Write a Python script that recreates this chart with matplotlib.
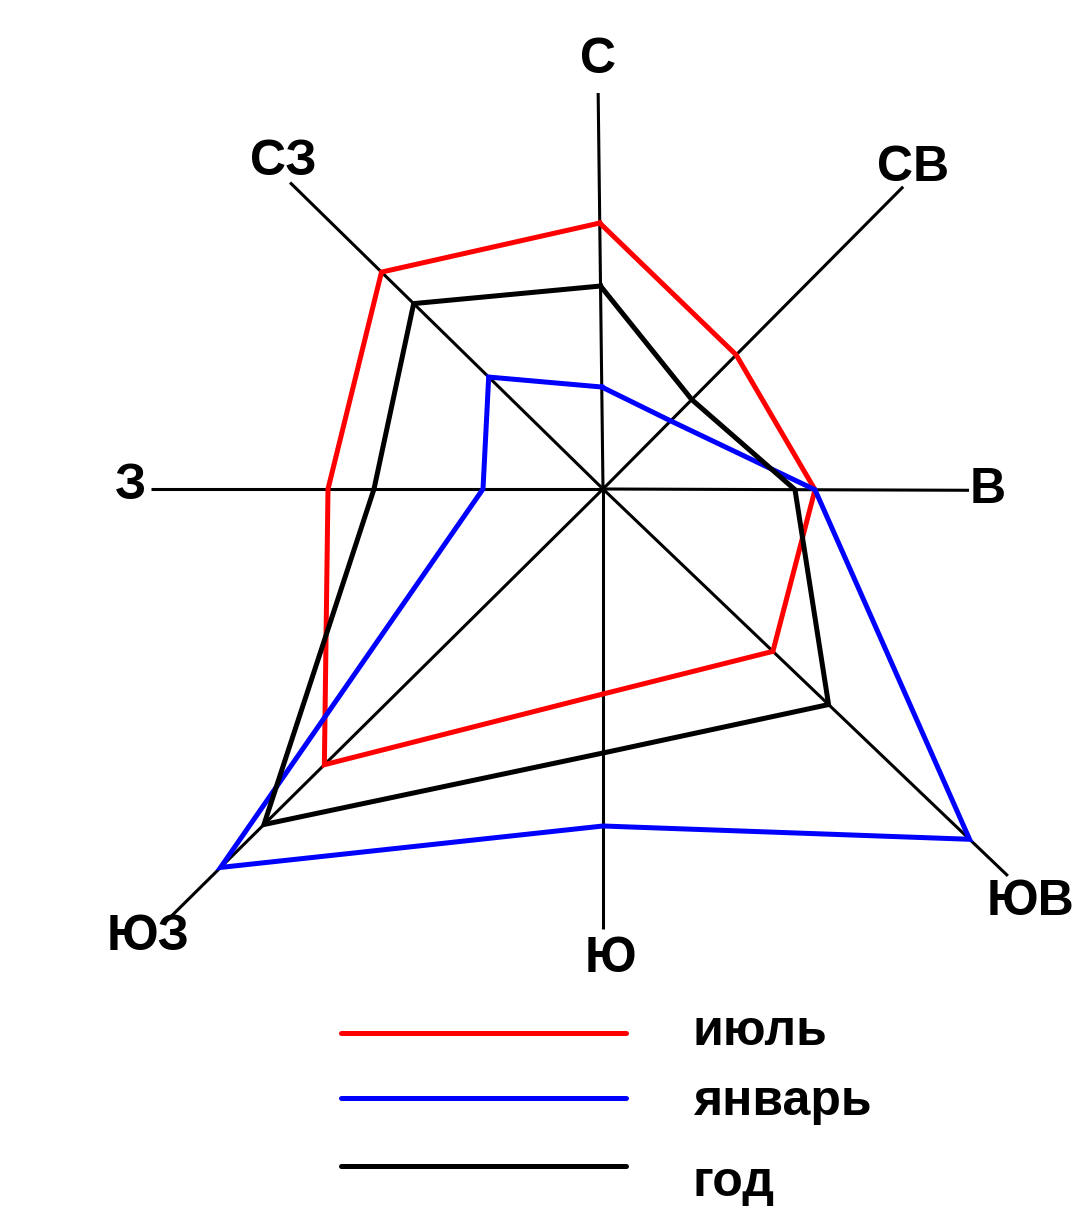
import numpy as np
import matplotlib.pyplot as plt

plt.rcParams['font.family'] = ['Liberation Sans', 'DejaVu Sans']

# Directions (compass labels) and their angles (the original rays are slightly hand-tilted)
directions = ['С', 'СВ', 'В', 'ЮВ', 'Ю', 'ЮЗ', 'З', 'СЗ']
angles_deg = [90.7, 45.2, -0.2, -43.7, -90.0, -135.3, 180.0, 135.6]

# Wind rose values (relative units)
july = [13.3, 9.45, 10.6, 11.75, 10.25, 19.6, 13.75, 15.5]
january = [5.1, 4.8, 10.6, 25.35, 16.85, 26.9, 6.0, 8.0]
year = [10.15, 6.3, 9.6, 15.6, 13.2, 23.85, 11.45, 13.25]

series_labels = ['июль', 'январь', 'год']
series_colors = ['red', 'blue', 'black']

# axis ray lengths (same units)
axis_len = [19.8, 21.3, 18.3, 28.0, 22.0, 30.5, 22.6, 21.9]

# label centres in pixels
label_xy = [(598, 60), (913, 168), (988, 490), (1030, 902),
            (610, 959), (148, 937), (131, 486), (283, 162)]

cx, cy = 603, 489   # centre in pixels
scale = 20          # pixels per unit

fig = plt.figure(figsize=(10.81, 12.10), dpi=100)
ax = fig.add_axes([0, 0, 1, 1])
ax.set_xlim(0, 1081)
ax.set_ylim(1210, 0)
ax.axis('off')

ang = np.radians(angles_deg)
ux, uy = np.cos(ang), -np.sin(ang)

# axes rays
for i, name in enumerate(directions):
    L = axis_len[i] * scale
    ax.plot([cx, cx + L * ux[i]], [cy, cy + L * uy[i]], color='black', lw=2.2,
            solid_capstyle='butt', zorder=1)
    ax.text(label_xy[i][0], label_xy[i][1], name, fontsize=36, fontweight='bold',
            ha='center', va='center')

# series polygons
for vals, col in zip([july, january, year], series_colors):
    r = np.array(vals + vals[:1]) * scale
    a = np.concatenate([ang, ang[:1]])
    ax.plot(cx + r * np.cos(a), cy - r * np.sin(a), color=col, lw=3.6,
            solid_joinstyle='miter', zorder=2)

# legend
leg_y = [1033, 1098, 1166]
text_base = [1045, 1115, 1196]
for lab, col, y, tb in zip(series_labels, series_colors, leg_y, text_base):
    ax.plot([341, 626], [y, y], color=col, lw=3.6, solid_capstyle='round')
    ax.text(693, tb, lab, fontsize=36, fontweight='bold', ha='left', va='baseline')

fig.savefig('out.png', dpi=100)
